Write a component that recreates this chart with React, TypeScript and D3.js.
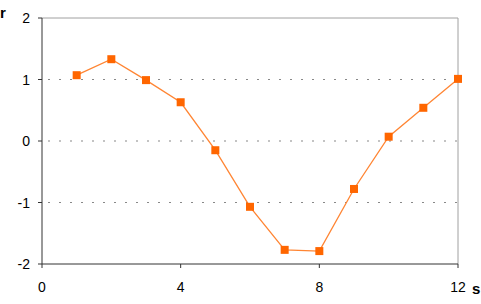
import React from "react";
import * as d3 from "d3";

const xs = [1, 2, 3, 4, 5, 6, 7, 8, 9, 10, 11, 12];
const ys = [1.07, 1.33, 0.99, 0.63, -0.15, -1.07, -1.77, -1.79, -0.78, 0.07, 0.54, 1.01];
const xTicks = [0, 4, 8, 12];
const yTicks = [-2, -1, 0, 1, 2];
const gridVals = [-1, 0, 1];

export default function App() {
  const W = 481, H = 304;
  const x = d3.scaleLinear().domain([0, 12]).range([42, 458]);
  const y = d3.scaleLinear().domain([-2, 2]).range([264, 18]);
  const line = d3.line<number>().x((_, i) => x(xs[i])).y((d) => y(d));
  const font = "Liberation Sans, Arial, sans-serif";
  return (
    <svg width={W} height={H} style={{ position: "absolute", left: 0, top: 0 }} fontFamily={font}>
      <rect width={W} height={H} fill="#fff" />
      {gridVals.map((v) => (
        <line key={v} x1={x(0) + 6} x2={x(12)} y1={y(v)} y2={y(v)} stroke="#888" strokeWidth={1.2} strokeDasharray="2,9" />
      ))}
      <line x1={x(0)} x2={x(12)} y1={y(2)} y2={y(2)} stroke="#a0a0a0" />
      <line x1={x(12)} x2={x(12)} y1={y(2)} y2={y(-2)} stroke="#a0a0a0" />
      <line x1={x(0)} x2={x(0)} y1={y(2)} y2={y(-2)} stroke="#333" />
      <line x1={x(0)} x2={x(12)} y1={y(-2)} y2={y(-2)} stroke="#333" />
      {yTicks.map((v) => (
        <g key={v}>
          <line x1={x(0) - 4} x2={x(0)} y1={y(v)} y2={y(v)} stroke="#333" />
          <text x={30} y={y(v)} dy="0.36em" textAnchor="end" fontSize={14} fill="#000">{v}</text>
        </g>
      ))}
      {xTicks.map((v) => (
        <g key={v}>
          <line x1={x(v)} x2={x(v)} y1={y(-2)} y2={y(-2) + 4} stroke="#333" />
          <text x={x(v)} y={292} textAnchor="middle" fontSize={14} fill="#000">{v}</text>
        </g>
      ))}
      <text x={0} y={18} fontSize={15} fontWeight="bold">r</text>
      <text x={472} y={294} fontSize={15} fontWeight="bold">s</text>
      <path d={line(ys) || ""} fill="none" stroke="#ff8533" strokeWidth={1.3} />
      {ys.map((v, i) => (
        <rect key={i} x={x(xs[i]) - 4} y={y(v) - 4} width={8} height={8} fill="#ff6600" />
      ))}
    </svg>
  );
}
